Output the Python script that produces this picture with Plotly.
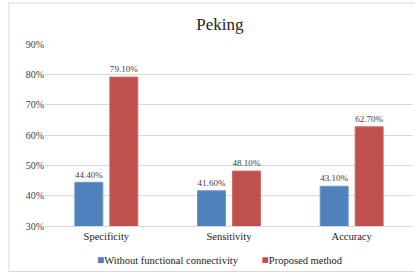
import plotly.graph_objects as go

categories = ["Specificity", "Sensitivity", "Accuracy"]
without_fc = [44.4, 41.6, 43.1]
proposed = [79.1, 48.1, 62.7]
series_names = ["Without functional connectivity", "Proposed method"]
series_colors = ["#4F81BD", "#C0504D"]
tick_vals = [30, 40, 50, 60, 70, 80, 90]
tick_text = ["30%", "40%", "50%", "60%", "70%", "80%", "90%"]

font_family = "Liberation Serif"

fig = go.Figure()
fig.add_trace(go.Bar(
    x=categories, y=without_fc, name=series_names[0],
    marker=dict(color=series_colors[0], line=dict(color="#6A95CC", width=1)),
    text=[f"{v:.2f}%" for v in without_fc], textposition="outside",
    textfont=dict(size=10, color="#404040", family=font_family),
    cliponaxis=False, showlegend=False,
))
fig.add_trace(go.Bar(
    x=categories, y=proposed, name=series_names[1],
    marker=dict(color=series_colors[1], line=dict(color="#D06A67", width=1)),
    text=[f"{v:.2f}%" for v in proposed], textposition="outside",
    textfont=dict(size=10, color="#404040", family=font_family),
    cliponaxis=False, showlegend=False,
))

legend_text = "&nbsp;&nbsp;&nbsp;&nbsp;&nbsp;&nbsp;&nbsp;&nbsp;&nbsp;".join(
    f"<span style='color:{c};font-size:12px'>■</span>{n}"
    for n, c in zip(series_names, series_colors)
)
fig.add_annotation(text=legend_text, xref="paper", yref="paper",
                   x=0.476, y=-0.187, xanchor="center", yanchor="middle",
                   showarrow=False,
                   font=dict(family=font_family, size=10.5, color="#222222"))

fig.update_layout(
    width=415, height=275,
    margin=dict(l=45, r=2, t=44, b=49),
    paper_bgcolor="white", plot_bgcolor="white",
    barmode="group", bargap=0.43, bargroupgap=0.2,
    title=dict(text="Peking", x=0.53, xanchor="center", y=0.912, yanchor="middle",
               font=dict(family=font_family, size=17, color="#222222")),
    font=dict(family=font_family, size=10, color="#404040"),
    showlegend=False,
    yaxis=dict(range=[30, 90], tickvals=tick_vals, ticktext=tick_text,
               showgrid=True, gridcolor="#D9D9D9", gridwidth=1,
               zeroline=False, showline=False, ticks="",
               tickfont=dict(family=font_family, size=10, color="#404040")),
    xaxis=dict(showline=True, linecolor="#D9D9D9", linewidth=1, ticks="",
               tickfont=dict(family=font_family, size=10.5, color="#222222")),
)

fig.add_shape(type="rect", xref="paper", yref="paper",
              x0=-0.098, x1=1.02, y0=-0.25, y1=1.225,
              line=dict(color="#D9D9D9", width=1), layer="below")

fig.write_html("out.html", config={"displayModeBar": False},
               post_script="document.body.style.margin='0';")
